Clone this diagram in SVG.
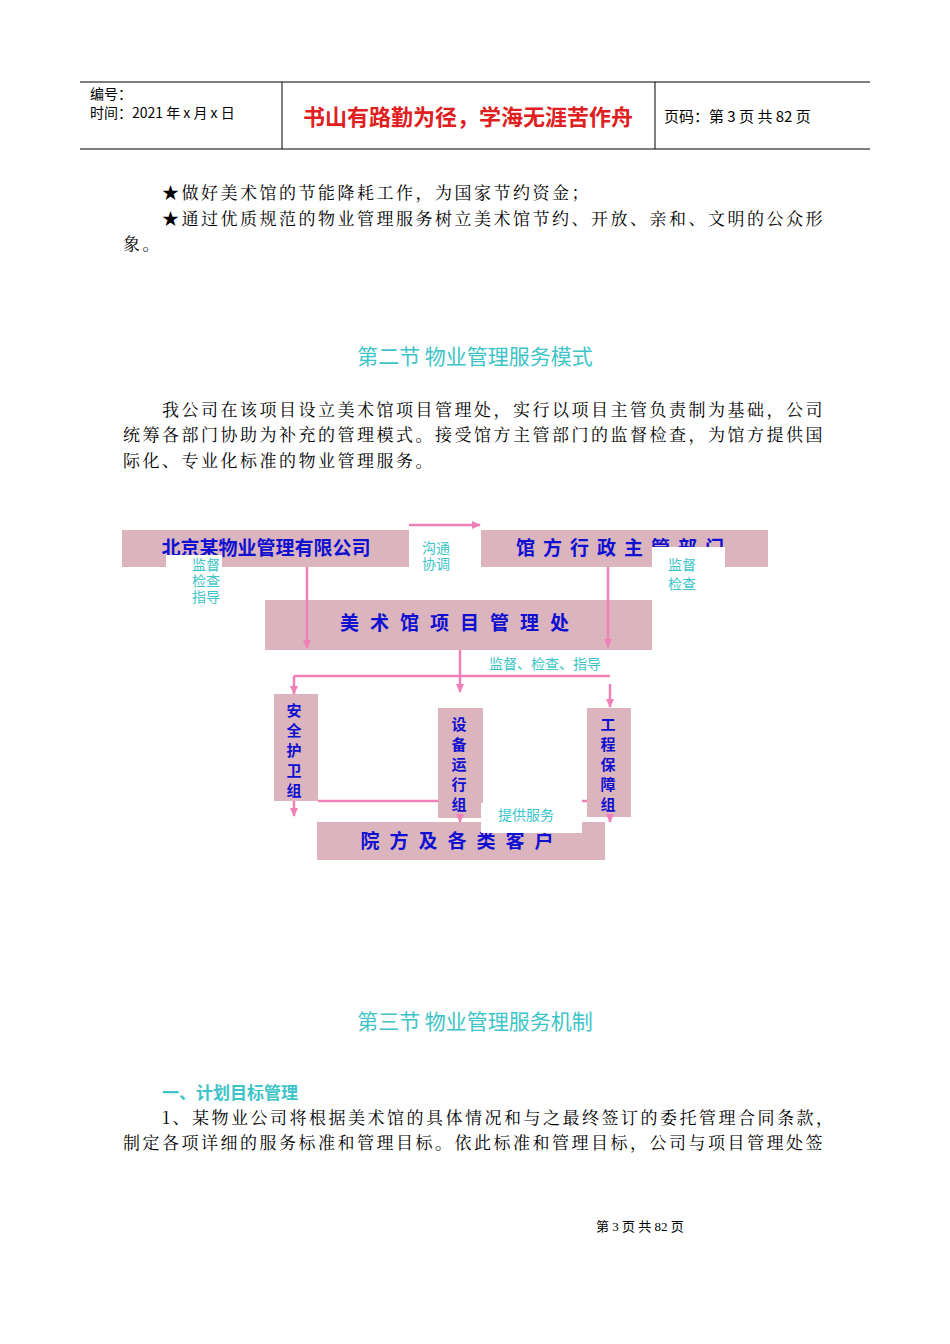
<svg xmlns="http://www.w3.org/2000/svg" width="950" height="1344" viewBox="0 0 950 1344">
<style>
.b{font-family:"Noto Serif CJK SC","Liberation Serif","Noto Sans CJK SC",serif;font-size:17px;letter-spacing:2.5px;fill:#000}
.h{font-family:"Noto Sans CJK SC",sans-serif;font-size:21px;fill:#3cc4c8}
.nd{fill:#dbb4be}
.nt{font-family:"Noto Sans CJK SC",sans-serif;font-size:19px;font-weight:bold;fill:#1010d0}
.v{font-family:"Noto Sans CJK SC",sans-serif;font-size:15px;font-weight:bold;fill:#1010d0;text-anchor:middle}
.lb{font-family:"Noto Sans CJK SC",sans-serif;font-size:14px;fill:#3cc4c8}
.c{stroke:#f080b8;stroke-width:2.5;fill:none}
</style>
<defs><marker id="a" markerWidth="10" markerHeight="10" refX="8" refY="4" orient="auto" markerUnits="userSpaceOnUse"><path d="M0,0L9,4L0,8z" fill="#f080b8"/></marker></defs>
<rect width="950" height="1344" fill="#fff"/>
<g id="header">
<line x1="80" y1="82" x2="870" y2="82" stroke="#000"/>
<line x1="80" y1="149" x2="870" y2="149" stroke="#000"/>
<line x1="282" y1="82" x2="282" y2="149" stroke="#000"/>
<line x1="655" y1="82" x2="655" y2="149" stroke="#000"/>
<text x="90" y="99" font-family="Noto Sans CJK SC,sans-serif" font-size="14">编号：</text>
<text x="90" y="118" font-family="Noto Sans CJK SC,sans-serif" font-size="14">时间：2021 年 x 月 x 日</text>
<text x="468" y="125" text-anchor="middle" font-family="Noto Sans CJK SC,sans-serif" font-size="22" font-weight="bold" fill="#e02020">书山有路勤为径，学海无涯苦作舟</text>
<text x="664" y="122" font-family="Noto Sans CJK SC,sans-serif" font-size="15">页码：第 3 页  共 82 页</text>
</g>
<text class="b" x="162" y="199">★做好美术馆的节能降耗工作，为国家节约资金；</text>
<text class="b" x="162" y="225">★通过优质规范的物业管理服务树立美术馆节约、开放、亲和、文明的公众形</text>
<text class="b" x="123" y="250">象。</text>
<text class="h" x="475" y="364" text-anchor="middle">第二节  物业管理服务模式</text>
<text class="b" x="162" y="416">我公司在该项目设立美术馆项目管理处，实行以项目主管负责制为基础，公司</text>
<text class="b" x="123" y="441">统筹各部门协助为补充的管理模式。接受馆方主管部门的监督检查，为馆方提供国</text>
<text class="b" x="123" y="467">际化、专业化标准的物业管理服务。</text>
<g id="n1"><rect class="nd" x="122" y="530" width="287" height="37"/><text class="nt" x="266" y="555" text-anchor="middle">北京某物业管理有限公司</text></g>
<g id="n2"><rect class="nd" x="481" y="530" width="287" height="37"/><text class="nt" x="624" y="555" text-anchor="middle" letter-spacing="8">馆方行政主管部门</text></g>
<g id="n3"><rect class="nd" x="265" y="600" width="387" height="50"/><text class="nt" x="460" y="630" text-anchor="middle" font-size="21" letter-spacing="11">美术馆项目管理处</text></g>
<g id="n4"><rect class="nd" x="274" y="694" width="44" height="107"/><text class="v" x="294" y="716">安</text><text class="v" x="294" y="736">全</text><text class="v" x="294" y="756">护</text><text class="v" x="294" y="776">卫</text><text class="v" x="294" y="796">组</text></g>
<g id="n5"><rect class="nd" x="438" y="708" width="45" height="110"/><text class="v" x="459" y="730">设</text><text class="v" x="459" y="750">备</text><text class="v" x="459" y="770">运</text><text class="v" x="459" y="790">行</text><text class="v" x="459" y="810">组</text></g>
<g id="n6"><rect class="nd" x="587" y="708" width="44" height="109"/><text class="v" x="608" y="730">工</text><text class="v" x="608" y="750">程</text><text class="v" x="608" y="770">保</text><text class="v" x="608" y="790">障</text><text class="v" x="608" y="810">组</text></g>
<g id="n7"><rect class="nd" x="317" y="822" width="288" height="38"/><text class="nt" x="462" y="848" text-anchor="middle" letter-spacing="10">院方及各类客户</text></g>
<g id="connectors">
<line class="c" x1="409" y1="525" x2="480" y2="525" marker-end="url(#a)"/>
<line class="c" x1="307" y1="567" x2="307" y2="648" marker-end="url(#a)"/>
<line class="c" x1="608" y1="567" x2="608" y2="647" marker-end="url(#a)"/>
<line class="c" x1="460" y1="650" x2="460" y2="692" marker-end="url(#a)"/>
<line class="c" x1="610" y1="676" x2="294" y2="676"/>
<line class="c" x1="294" y1="676" x2="294" y2="694" marker-end="url(#a)"/>
<line class="c" x1="610" y1="684" x2="610" y2="707" marker-end="url(#a)"/>
<line class="c" x1="294" y1="801" x2="294" y2="816" marker-end="url(#a)"/>
<line class="c" x1="318" y1="801" x2="438" y2="801"/>
<line class="c" x1="582" y1="801" x2="587" y2="801"/>
<line class="c" x1="460" y1="818" x2="460" y2="822" marker-end="url(#a)"/>
<line class="c" x1="610" y1="817" x2="610" y2="822" marker-end="url(#a)"/>
</g>
<g id="labels">
<rect x="410" y="530" width="56" height="40" fill="#fff"/><text class="lb" x="436" y="553" text-anchor="middle"><tspan x="436">沟通</tspan><tspan x="436" dy="16">协调</tspan></text>
<rect x="166" y="555" width="56" height="47" fill="#fff"/><text class="lb" x="206" y="570" text-anchor="middle"><tspan x="206">监督</tspan><tspan x="206" dy="16">检查</tspan><tspan x="206" dy="16">指导</tspan></text>
<rect x="652" y="547" width="73" height="43" fill="#fff"/><text class="lb" x="682" y="570" text-anchor="middle" font-size="15"><tspan x="682">监督</tspan><tspan x="682" dy="19">检查</tspan></text>
<rect x="466" y="652" width="146" height="22" fill="#fff"/><text class="lb" x="545" y="669" text-anchor="middle" font-size="15">监督、检查、指导</text>
<rect x="481" y="803" width="101" height="30" fill="#fff"/><text class="lb" x="526" y="820" text-anchor="middle" font-size="15">提供服务</text>
</g>
<text class="h" x="475" y="1029" text-anchor="middle">第三节  物业管理服务机制</text>
<text x="162" y="1099" font-family="Noto Sans CJK SC,sans-serif" font-size="17" font-weight="bold" fill="#3cc4c8">一、计划目标管理</text>
<text class="b" x="162" y="1124">1、某物业公司将根据美术馆的具体情况和与之最终签订的委托管理合同条款，</text>
<text class="b" x="123" y="1149">制定各项详细的服务标准和管理目标。依此标准和管理目标，公司与项目管理处签</text>
<text x="640" y="1231" text-anchor="middle" font-family="Liberation Serif,Noto Sans CJK SC,serif" font-size="13">第  3  页  共  82  页</text>
</svg>
